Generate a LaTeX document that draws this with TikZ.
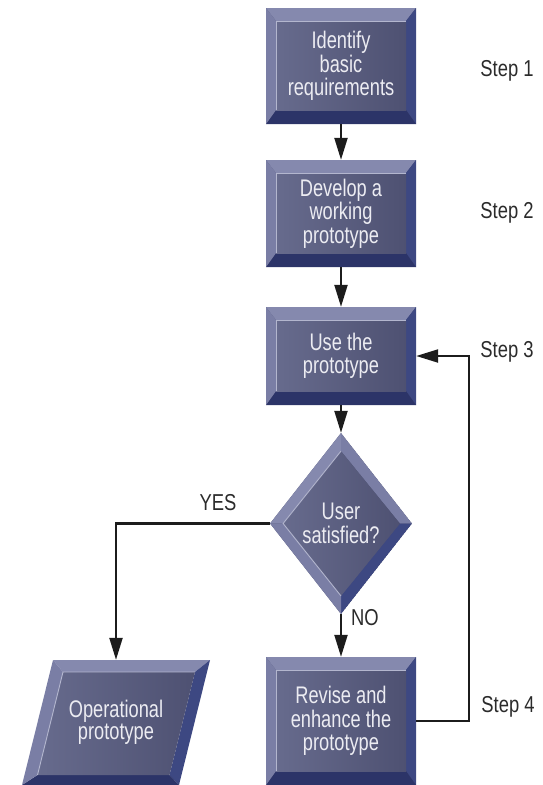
\documentclass[tikz,border=0pt]{standalone}
\usepackage{fontspec}
\newfontfamily\cond{Liberation Sans}[FakeStretch=0.76]
\newfontfamily\condl{Liberation Sans}[FakeStretch=0.8]
\usetikzlibrary{arrows.meta,shapes.geometric,calc}
\definecolor{bevtop}{HTML}{8589AE}
\definecolor{bevleft}{HTML}{7A7EA5}
\definecolor{bevright}{HTML}{3D4882}
\definecolor{bevbot}{HTML}{2C3468}
\definecolor{faceA}{HTML}{676B8D}
\definecolor{faceB}{HTML}{4E5172}
\definecolor{hilite}{HTML}{B3B6CE}
\definecolor{boxtext}{HTML}{ECECF2}
\definecolor{labeltext}{HTML}{2B2B2B}
\definecolor{linec}{HTML}{1C1C1C}
\tikzset{
  bevelbox/.style={rectangle, inner sep=0pt, minimum width=150pt, minimum height=#1,
    fill=faceB, text=boxtext, align=center, font=\cond\fontsize{24}{23.5}\selectfont,
    path picture={
      \coordinate (pA) at (path picture bounding box.north west);
      \coordinate (pB) at (path picture bounding box.north east);
      \coordinate (pC) at (path picture bounding box.south east);
      \coordinate (pD) at (path picture bounding box.south west);
      \coordinate (pa) at ([xshift=10pt,yshift=-13pt]pA);
      \coordinate (pb) at ([xshift=-10pt,yshift=-13pt]pB);
      \coordinate (pc) at ([xshift=-10pt,yshift=14pt]pC);
      \coordinate (pd) at ([xshift=10pt,yshift=14pt]pD);
      \fill[bevtop] (pA)--(pB)--(pb)--(pa)--cycle;
      \fill[bevright] (pB)--(pC)--(pc)--(pb)--cycle;
      \fill[bevbot] (pC)--(pD)--(pd)--(pc)--cycle;
      \fill[bevleft] (pD)--(pA)--(pa)--(pd)--cycle;
      \shade[left color=faceA, right color=faceB] (pa) rectangle (pc);
      \draw[hilite, line width=0.9pt] (pd)--(pa)--(pb);
    }},
  beveldiamond/.style={diamond, inner sep=0pt, minimum width=142pt, minimum height=181pt,
    fill=faceB, text=boxtext, align=center, font=\cond\fontsize{24}{23.5}\selectfont,
    path picture={
      \coordinate (qN) at (path picture bounding box.north);
      \coordinate (qE) at (path picture bounding box.east);
      \coordinate (qS) at (path picture bounding box.south);
      \coordinate (qW) at (path picture bounding box.west);
      \coordinate (qn) at ([yshift=-18pt]qN);
      \coordinate (qe) at ([xshift=-12pt]qE);
      \coordinate (qs) at ([yshift=18pt]qS);
      \coordinate (qw) at ([xshift=13pt]qW);
      \fill[bevtop] (qW)--(qN)--(qn)--(qw)--cycle;
      \fill[bevleft] (qN)--(qE)--(qe)--(qn)--cycle;
      \fill[bevright] (qE)--(qS)--(qs)--(qe)--cycle;
      \fill[bevleft] (qS)--(qW)--(qw)--(qs)--cycle;
      \shade[left color=faceA, right color=faceB] (qn)--(qe)--(qs)--(qw)--cycle;
      \draw[hilite, line width=0.9pt] (qs)--(qw)--(qn);
    }},
  bevelpara/.style={rectangle, inner sep=0pt, minimum width=188pt, minimum height=125pt,
    text=boxtext, align=center, font=\cond\fontsize{24}{22}\selectfont,
    path picture={
      \coordinate (rA) at ([xshift=31pt]path picture bounding box.north west);
      \coordinate (rB) at (path picture bounding box.north east);
      \coordinate (rC) at ([xshift=-31pt]path picture bounding box.south east);
      \coordinate (rD) at (path picture bounding box.south west);
      \coordinate (ra) at ([xshift=41pt,yshift=-12pt]path picture bounding box.north west);
      \coordinate (rb) at ([xshift=-15pt,yshift=-12pt]path picture bounding box.north east);
      \coordinate (rc) at ([xshift=-40.5pt,yshift=10pt]path picture bounding box.south east);
      \coordinate (rd) at ([xshift=15.5pt,yshift=10pt]path picture bounding box.south west);
      \fill[bevtop] (rA)--(rB)--(rb)--(ra)--cycle;
      \fill[bevright] (rB)--(rC)--(rc)--(rb)--cycle;
      \fill[bevbot] (rC)--(rD)--(rd)--(rc)--cycle;
      \fill[bevleft] (rD)--(rA)--(ra)--(rd)--cycle;
      \shade[left color=faceA, right color=faceB] (ra)--(rb)--(rc)--(rd)--cycle;
      \draw[hilite, line width=0.9pt] (rd)--(ra)--(rb);
    }},
  steplabel/.style={text=labeltext, font=\condl\fontsize{23}{24}\selectfont, inner sep=0pt},
  conn/.style={draw=linec, line width=2.2pt, -{Triangle[length=22pt,width=13pt]}},
}
\begin{document}
\begin{tikzpicture}[x=1pt,y=-1pt]
\useasboundingbox (0,0) rectangle (542,785);
\node[bevelbox=116pt] (b1) at (341,66) {Identify\\basic\\requirements};
\node[bevelbox=107pt] (b2) at (341,213.5) {Develop a\\working\\prototype};
\node[bevelbox=98pt] (b3) at (341,356) {Use the\\prototype};
\node[beveldiamond] (dia) at (341,523.5) {User\\satisfied?};
\node[bevelbox=128pt] (b4) at (341,721) {Revise and\\enhance the\\prototype};
\node[bevelpara] (op) at (116,722.5) {Operational\\prototype};
\node[steplabel] (s1) at (507,71) {Step 1};
\node[steplabel] (s2) at (507,213) {Step 2};
\node[steplabel] (s3) at (507,352) {Step 3};
\node[steplabel] (s4) at (508,707) {Step 4};
\node[steplabel] (yes) at (218,503) {YES};
\node[steplabel] (no) at (365,618) {NO};
\coordinate (loopc) at (469,356);
\draw[conn] (b1) -- (b2);
\draw[conn] (b2) -- (b3);
\draw[conn] (b3) -- (dia);
\draw[conn] (dia) -- (b4);
\draw[conn] (dia.west) -| (op.north);
\draw[conn] (b4.east) -| (loopc) -- (b3.east);
\end{tikzpicture}
\end{document}
